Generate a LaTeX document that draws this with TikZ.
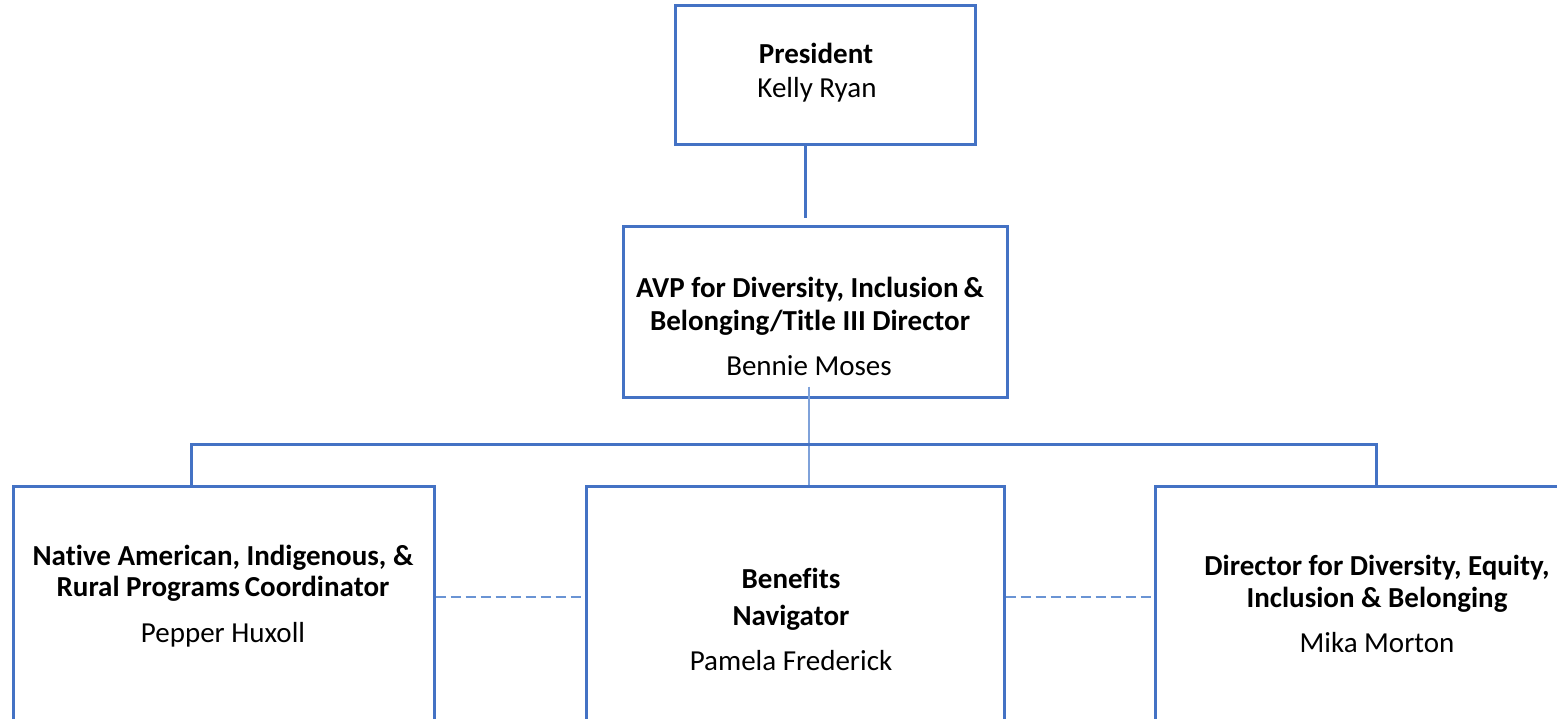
\documentclass[tikz,border=0pt]{standalone}
\usepackage{fontspec}
\setmainfont[Ligatures=NoCommon]{Carlito}
\definecolor{boxblue}{HTML}{4472C4}
\definecolor{lightblue}{HTML}{7FA2DA}
\definecolor{dashblue}{HTML}{6A94D4}
\begin{document}
\begin{tikzpicture}[x=1pt,y=-1pt,
  box/.style={draw=boxblue,line width=3pt,rectangle,inner sep=0pt},
  ttl/.style={anchor=base,font=\fontsize{29}{33}\selectfont\bfseries,inner sep=0pt},
  nm/.style={anchor=base,font=\fontsize{29}{33}\selectfont,inner sep=0pt},
  conn/.style={draw=boxblue,line width=3pt},
  thinconn/.style={draw=lightblue,line width=2pt},
  dashconn/.style={draw=dashblue,line width=2pt,dash pattern=on 10pt off 5pt}]
\useasboundingbox (0,0) rectangle (1557,718);
\clip (0,0) rectangle (1557,718);

% boxes
\node[box,minimum width=300pt,minimum height=139pt] (pres) at (825,74.5) {};
\node[box,minimum width=384pt,minimum height=171pt] (avp) at (815,311.5) {};
\node[box,minimum width=421pt,minimum height=274pt] (left) at (223.5,623) {};
\node[box,minimum width=418pt,minimum height=274pt] (mid) at (795,623) {};
\node[box,minimum width=445pt,minimum height=274pt] (right) at (1377.5,623) {};

% texts
\node[ttl] (pres-t1) at (816,63) {President};
\node[nm]  (pres-t2) at (817,97) {Kelly Ryan};

\node[ttl] (avp-t1) at (810,297) {AVP for Diversity, Inclusion\,\&};
\node[ttl] (avp-t2) at (810,330) {Belonging/Title III Director};
\node[nm]  (avp-t3) at (809,375) {Bennie Moses};

\node[ttl] (left-t1) at (223,565) {Native American, Indigenous, \&};
\node[ttl] (left-t2) at (223,596) {Rural Programs\,Coordinator};
\node[nm]  (left-t3) at (223,642) {Pepper Huxoll};

\node[ttl] (mid-t1) at (791,588) {Benefits};
\node[ttl] (mid-t2) at (791,625) {Navigator};
\node[nm]  (mid-t3) at (791,670) {Pamela Frederick};

\node[ttl] (right-t1) at (1377,575) {Director for Diversity, Equity,};
\node[ttl] (right-t2) at (1377,607) {Inclusion \& Belonging};
\node[nm]  (right-t3) at (1377,652) {Mika Morton};

% connectors
\draw[conn] ([xshift=-20pt]pres.south) -- ([xshift=-10pt,yshift=7pt]avp.north);
\draw[thinconn] ([xshift=-6pt,yshift=12pt]avp.south) -- ([xshift=14pt]mid.north);
\coordinate (busL) at (191,444);
\coordinate (busR) at (1376,444);
\draw[conn] (left.north -| busL) -- (busL) -- (busR) -- (right.north -| busR);
\coordinate (dy) at (0,597);
\draw[dashconn] (left.east |- dy) -- (mid.west |- dy);
\draw[dashconn] (mid.east |- dy) -- (right.west |- dy);
\end{tikzpicture}
\end{document}
